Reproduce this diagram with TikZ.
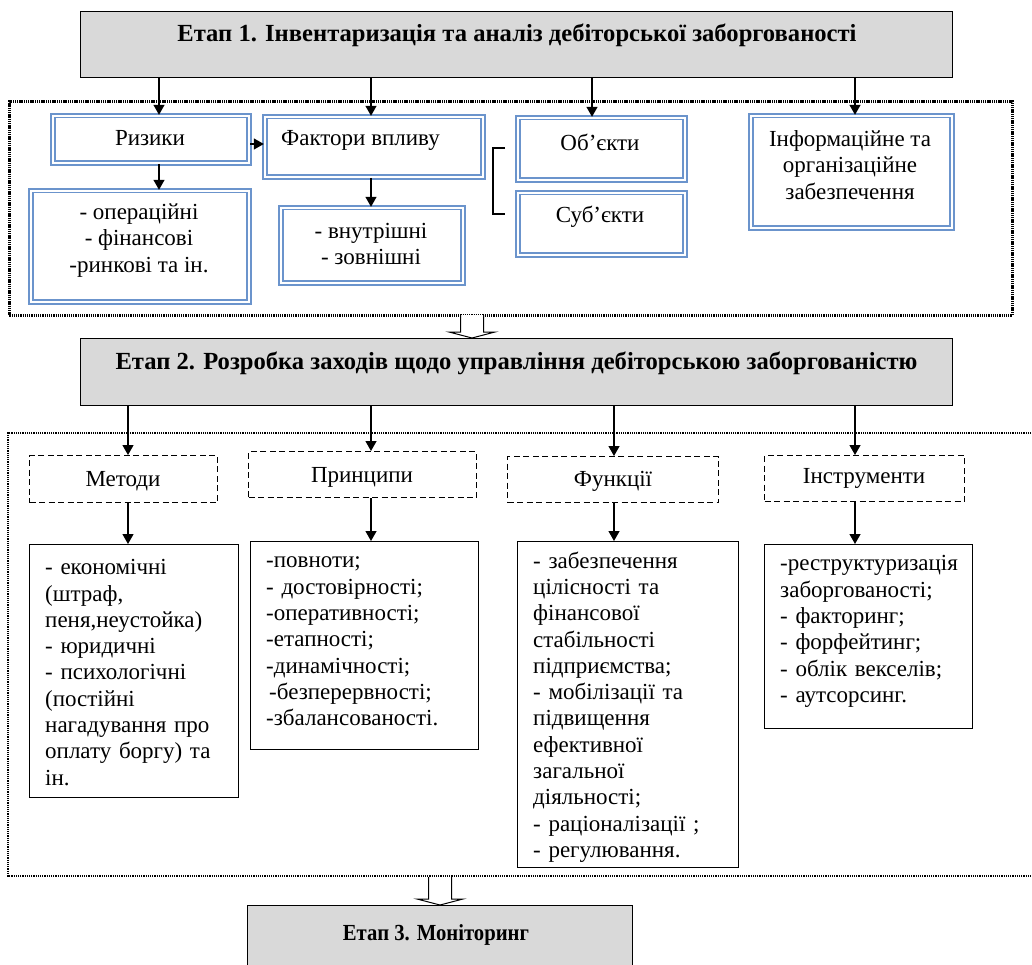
\documentclass[tikz,border=0pt]{standalone}
\usepackage{fontspec}
\setmainfont{Liberation Serif}
\usetikzlibrary{arrows.meta}
\definecolor{dblue}{HTML}{6B94CC}
\definecolor{sgray}{HTML}{D9D9D9}
\begin{document}
\begin{tikzpicture}[x=1pt,y=-1pt,
  every node/.style={font=\fontsize{23}{26.3}\selectfont, inner sep=0pt},
  stage/.style={anchor=north west, draw, line width=1.4pt, fill=sgray},
  dbox/.style={anchor=north west, draw=dblue, line width=1.8pt, double=white, double distance=2pt},
  lbox/.style={anchor=north west, draw, line width=1.2pt},
  dashbox/.style={anchor=north west, draw, line width=1.1pt, dash pattern=on 6pt off 3.5pt},
  frame/.style={line width=2.6pt, dash pattern=on 1.3pt off 0.9pt},
  arr/.style={line width=1.3pt, -{Triangle[length=10pt,width=11pt]}},
  hollow/.style={draw, line width=1pt, fill=white, line join=miter},
  ttl/.style={font=\fontsize{24.6}{28}\selectfont\bfseries},
  ttls/.style={font=\fontsize{23}{26}\selectfont\bfseries},
  lst/.style={anchor=west, align=left, text width=200pt}
]
\useasboundingbox (0,0) rectangle (1032,965);

% x positions of connectors
\coordinate (xa) at (159,0);
\coordinate (xb) at (371,0);
\coordinate (xc) at (592,0);
\coordinate (xd) at (855,0);
\coordinate (xe) at (128,0);
\coordinate (xf) at (614,0);
\coordinate (ya) at (0,144);

% ---------- Stage 1 ----------
\node[stage, minimum width=872, minimum height=66] (s1) at (80,11) {};
\node[ttl] (s1t) at (517,35) {Етап 1. Інвентаризація та аналіз дебіторської заборгованості};

\node[frame, draw, anchor=north west, minimum width=1003, minimum height=214] (fr1) at (8,100) {};

\node[dbox, minimum width=196.4, minimum height=47.4] (risk) at (51.8,114.8) {};
\node (riskt) at (150,138) {Ризики};
\node[dbox, minimum width=218.4, minimum height=60.4] (fact) at (263.8,115.8) {};
\node[anchor=west] (factt) at (281,140) {Фактори впливу};
\node[dbox, minimum width=218.4, minimum height=111.4] (rsub) at (29.8,189.8) {};
\node[align=center] (rsubt) at (139,240.5) {- операційні\\- фінансові\\-ринкові та ін.};
\node[dbox, minimum width=182.4, minimum height=75.4] (fsub) at (279.8,206.8) {};
\node[align=center] (fsubt) at (371,244) {- внутрішні\\- зовнішні};
\node[dbox, minimum width=167.4, minimum height=62.4] (obj) at (516.8,116.8) {};
\node (objt) at (600,142) {Об’єкти};
\node[dbox, minimum width=167.4, minimum height=62.4] (subj) at (516.8,191.8) {};
\node (subjt) at (600,217) {Суб’єкти};
\node[dbox, minimum width=201.4, minimum height=112.4] (info) at (749.8,114.8) {};
\node[align=center] (infot) at (850,165) {Інформаційне та\\організаційне\\забезпечення};

\draw[arr] (s1.south -| xa) -- (risk.north -| xa);
\draw[arr] (s1.south -| xb) -- (fact.north -| xb);
\draw[arr] (s1.south -| xc) -- (obj.north -| xc);
\draw[arr] (s1.south -| xd) -- (info.north -| xd);
\draw[arr] (risk.east |- ya) -- (fact.west |- ya);
\draw[arr] (risk.south -| xa) -- (rsub.north -| xa);
\draw[arr] (fact.south -| xb) -- (fsub.north -| xb);

% bracket
\coordinate (br1) at (505,148);
\coordinate (br2) at (505,214);
\draw[line width=1.2pt] (br1) -- (493,148) -- (493,214) -- (br2);

% hollow arrow 1
\draw[hollow] (460.5,315) -- (460.5,332) -- (449,332) -- (472,338) -- (495,332) -- (483.5,332) -- (483.5,315);

% ---------- Stage 2 ----------
\node[stage, minimum width=872, minimum height=67] (s2) at (80,338) {};
\node[ttl] (s2t) at (516.5,363) {Етап 2. Розробка заходів щодо управління дебіторською заборгованістю};

\draw[frame] (1040,433) -- (8,433) -- (8,876) -- (1040,876);

\node[dashbox, minimum width=188, minimum height=47] (meth) at (29,455) {};
\node (metht) at (123,481) {Методи};
\node[dashbox, minimum width=228, minimum height=46] (prin) at (248,451) {};
\node (print) at (362,477) {Принципи};
\node[dashbox, minimum width=211, minimum height=46] (func) at (507,456) {};
\node (funct) at (613,481) {Функції};
\node[dashbox, minimum width=200, minimum height=46] (inst) at (764,455) {};
\node (instt) at (864,478) {Інструменти};

\draw[arr] (s2.south -| xe) -- (meth.north -| xe);
\draw[arr] (s2.south -| xb) -- (prin.north -| xb);
\draw[arr] (s2.south -| xf) -- (func.north -| xf);
\draw[arr] (s2.south -| xd) -- (inst.north -| xd);

\node[lbox, minimum width=209, minimum height=253] (msub) at (29,544) {};
\node[lst] (msubt) at (45,672.5) {- економічні\\(штраф,\\пеня,неустойка)\\- юридичні\\- психологічні\\(постійні\\нагадування про\\оплату боргу) та\\ін.};
\node[lbox, minimum width=228, minimum height=208] (psub) at (250,541) {};
\node[lst] (psubt) at (266,641.5) {-повноти;\\- достовірності;\\-оперативності;\\-етапності;\\-динамічності;\\\hspace*{3pt}-безперервності;\\-збалансованості.};
\node[lbox, minimum width=221, minimum height=326] (fusub) at (517,541) {};
\node[lst] (fusubt) at (533,707) {- забезпечення\\цілісності та\\фінансової\\стабільності\\підприємства;\\- мобілізації та\\підвищення\\ефективної\\загальної\\діяльності;\\- раціоналізації ;\\- регулювання.};
\node[lbox, minimum width=208, minimum height=184] (isub) at (764,544) {};
\node[lst] (isubt) at (780,631.5) {-реструктуризація\\заборгованості;\\- факторинг;\\- форфейтинг;\\- облік векселів;\\- аутсорсинг.};

\draw[arr] (meth.south -| xe) -- (msub.north -| xe);
\draw[arr] (prin.south -| xb) -- (psub.north -| xb);
\draw[arr] (func.south -| xf) -- (fusub.north -| xf);
\draw[arr] (inst.south -| xd) -- (isub.north -| xd);

% hollow arrow 2
\draw[hollow] (428.5,877) -- (428.5,899) -- (417,899) -- (440,905) -- (463,899) -- (451.5,899) -- (451.5,877);

% ---------- Stage 3 ----------
\node[stage, minimum width=385, minimum height=62] (s3) at (247,905) {};
\node[ttls] (s3t) at (436,935) {\scalebox{0.9}[1]{Етап 3. Моніторинг}};
\end{tikzpicture}
\end{document}
